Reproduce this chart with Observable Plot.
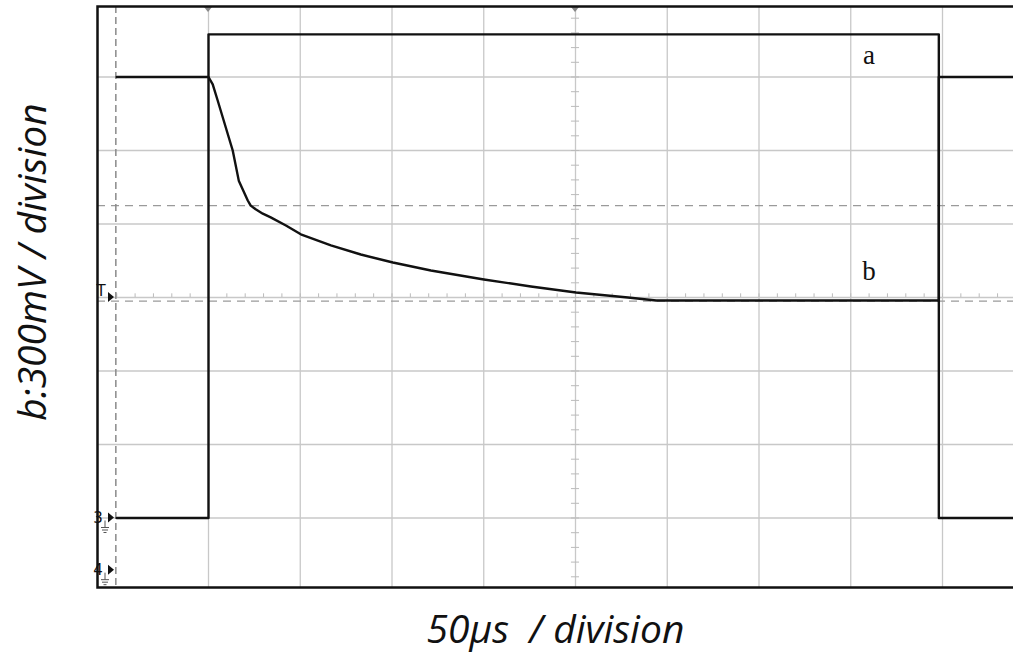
<!DOCTYPE html>
<html><head><meta charset="utf-8">
<script src="https://cdn.jsdelivr.net/npm/d3@7"></script>
<script src="https://cdn.jsdelivr.net/npm/@observablehq/plot@0.6"></script>
<style>
html,body{margin:0;padding:0;background:#fff;overflow:hidden;}
#chart svg{overflow:hidden;display:block;}
</style></head><body><div id="chart"></div>
<script>
// ---- data (time in µs, voltage in divisions) ----
const timeA  = [0, 50, 50, 448, 448, 500];
const voltsA = [-3.0, -3.0, 3.58, 3.58, -3.0, -3.0];
const timeB  = [0, 50, 52.3, 55.0, 63.2, 66.5, 71.4, 73.0, 75.7, 79.6, 83.9, 92.2, 100.3, 116.7, 133, 150.5, 171.2, 200.1, 225.7, 250.3, 278.6, 294, 448, 448, 500];
const voltsB = [3.0, 3.0, 2.9, 2.68, 2.0, 1.59, 1.32, 1.25, 1.20, 1.14, 1.09, 0.98, 0.86, 0.71, 0.585, 0.476, 0.367, 0.245, 0.15, 0.068, 0.0, -0.04, -0.04, 3.0, 3.0];
const gridTimes = [50, 100, 150, 200, 250, 300, 350, 400, 450];
const gridVolts = [-3, -2, -1, 0, 1, 2, 3];
const refVolts  = [1.25, -0.05];
const cursorTimes = [-0.5];
const minorTimes = d3.range(0, 501, 10);
const minorVolts = d3.range(-4, 4.01, 0.2);
const traceLabels = ["a", "b"];
const labelTimes  = [410, 410];
const labelVolts  = [3.3, 0.36];
const xTitle = "50µs  / division";
const yTitle = "b:300mV / division";
const channelMarks = [{label: "T", v: 0, ground: false}, {label: "3", v: -3, ground: true}, {label: "4", v: -3.71, ground: true}];
const topMarkTimes = [50, 250];

const A = timeA.map((t, i) => ({t, v: voltsA[i]}));
const B = timeB.map((t, i) => ({t, v: voltsB[i]}));
const L = traceLabels.map((s, i) => ({s, t: labelTimes[i], v: labelVolts[i]}));

function scopeMarkers(index, scales, values, dims) {
  const {x, y} = scales;
  const left = dims.marginLeft, top = dims.marginTop;
  const g = d3.create("svg:g");
  for (const c of channelMarks) {
    const py = y(c.v);
    g.append("text").attr("x", left + (c.label === "T" ? 4 : 1)).attr("y", py + (c.label === "T" ? -1 : 5))
      .style("font-family", "DejaVu Sans, sans-serif").style("font-size", "15px").attr("fill", "#111").text(c.label);
    g.append("path").attr("d", `M${left+11},${py-5}L${left+17},${py}L${left+11},${py+5}Z`).attr("fill", "#111");
    if (c.ground) {
      const gx = left + 8;
      g.append("path").attr("d",
        `M${gx},${py+3}V${py+10}M${gx-4},${py+10}H${gx+4}M${gx-3},${py+12.5}H${gx+3}M${gx-1.5},${py+15}H${gx+1.5}`)
        .attr("stroke", "#555").attr("stroke-width", 1).attr("fill", "none");
    }
  }
  for (const t of topMarkTimes) {
    const px = x(t);
    g.append("path").attr("d", `M${px-4},${top+1}L${px+4},${top+1}L${px},${top+6}Z`).attr("fill", "#888");
  }
  return g.node();
}

const chart = Plot.plot({
  width: 1013,
  height: 655,
  marginLeft: 97,
  marginTop: 6,
  marginBottom: 68,
  marginRight: -20,
  x: {domain: [0, 500], range: [116.25, 1033.75], axis: null},
  y: {domain: [-4, 4], range: [591, 3], axis: null},
  style: {background: "white"},
  marks: [
    Plot.ruleX(gridTimes, {stroke: "#c8c8c8", strokeWidth: 1.3, clip: "frame"}),
    Plot.ruleY(gridVolts, {stroke: "#c8c8c8", strokeWidth: 1.3, clip: "frame"}),
    Plot.ruleX(minorTimes, {y1: 0, y2: 0.05, stroke: "#bbb", strokeWidth: 1, clip: "frame"}),
    Plot.ruleY(minorVolts, {x1: 247.8, x2: 252.2, stroke: "#bbb", strokeWidth: 1, clip: "frame"}),
    Plot.ruleY(refVolts, {stroke: "#9a9a9a", strokeWidth: 1.3, strokeDasharray: "8,6", clip: "frame"}),
    Plot.ruleX(cursorTimes, {stroke: "#8a8a8a", strokeWidth: 1.5, strokeDasharray: "7,4", clip: "frame"}),
    Plot.line(A, {x: "t", y: "v", stroke: "#111", strokeWidth: 2.4, curve: "linear", clip: "frame"}),
    Plot.line(B, {x: "t", y: "v", stroke: "#111", strokeWidth: 2.4, curve: "linear", clip: "frame"}),
    Plot.text(L, {x: "t", y: "v", text: "s", fontFamily: "Liberation Serif, serif", fontSize: 27, fill: "#111"}),
    scopeMarkers,
    Plot.frame({stroke: "#111", strokeWidth: 2.5}),
    Plot.text([yTitle], {frameAnchor: "left", textAnchor: "middle", dx: -64, dy: -35, rotate: -90, fontFamily: "Open Sans, sans-serif", fontStyle: "italic", fontSize: 39, fill: "#111"}),
    Plot.text([xTitle], {frameAnchor: "bottom", textAnchor: "middle", dx: -10, dy: 55, fontFamily: "Open Sans, sans-serif", fontStyle: "italic", fontSize: 39, fill: "#111"})
  ]
});
document.getElementById("chart").append(chart);
</script></body></html>
